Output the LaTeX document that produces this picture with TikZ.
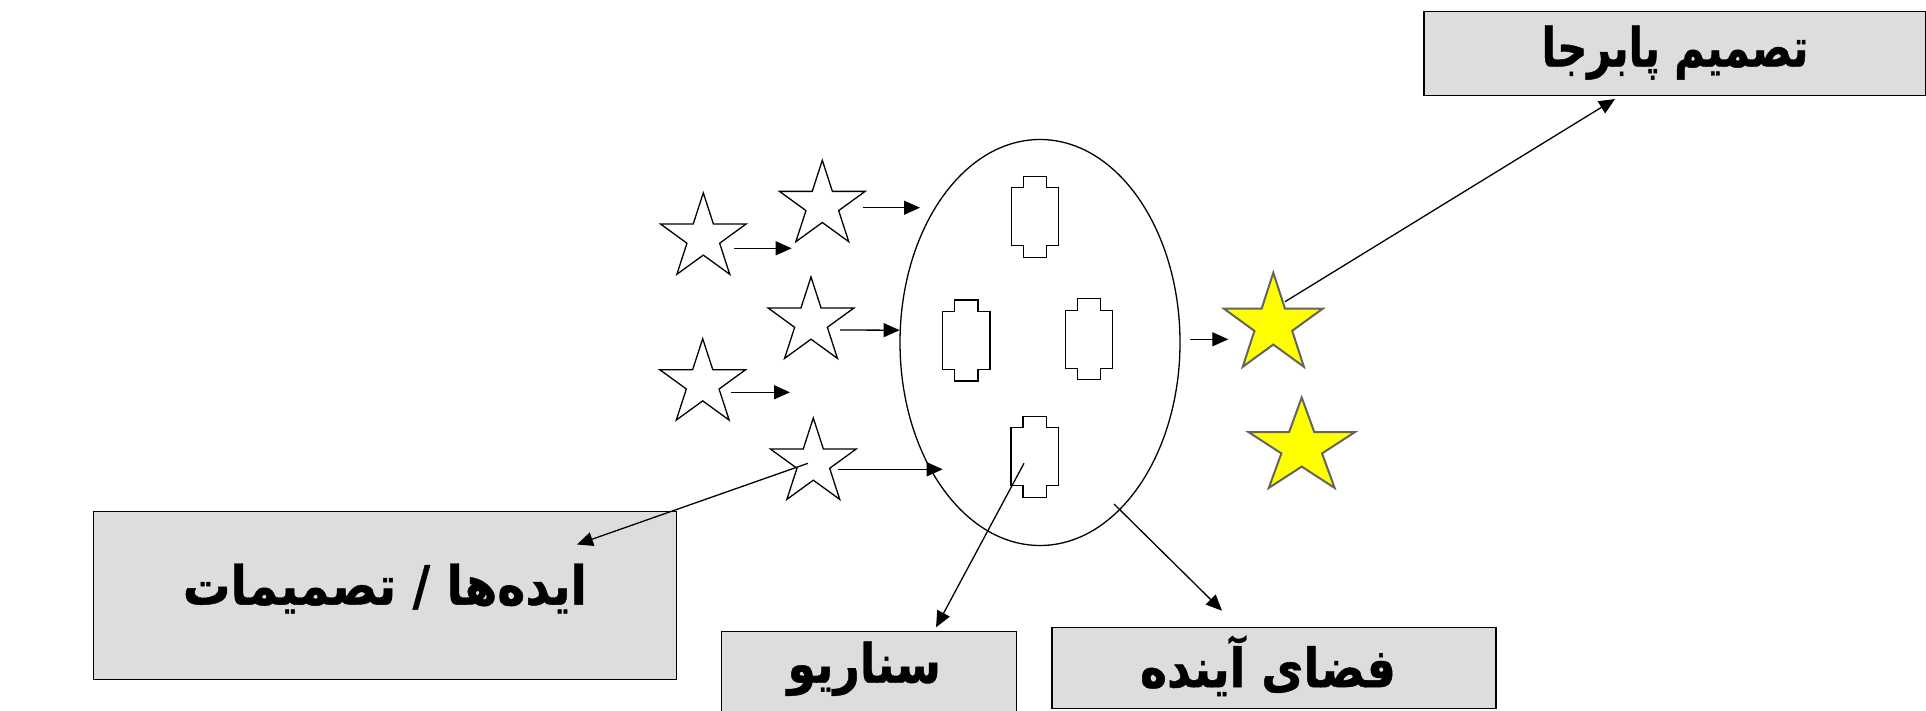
\documentclass[tikz,border=0pt]{standalone}
\usepackage{fontspec}
\newfontfamily\fa[Script=Arabic,FakeStretch=0.85,FakeBold=0.8]{DejaVu Sans}
\newfontfamily\faw[Script=Arabic,FakeStretch=0.88,FakeBold=0.8]{DejaVu Sans}
\newfontfamily\fatop[Script=Arabic,FakeStretch=0.77,FakeBold=0.8]{DejaVu Sans}
\TeXXeTstate=1
\usetikzlibrary{shapes.geometric,arrows.meta,calc}
\definecolor{boxgray}{RGB}{221,221,221}
\definecolor{stargray}{RGB}{100,100,100}
\definecolor{staryellow}{RGB}{255,255,0}
\newcommand{\rtl}[1]{\fa\bfseries\beginR #1\endR}
\newcommand{\rtlw}[1]{\faw\bfseries\beginR #1\endR}
\newcommand{\rtltop}[1]{\fatop\bfseries\beginR #1\endR}
\begin{document}
\begin{tikzpicture}[x=0.5pt,y=-0.5pt,
  ln/.style={line width=0.65pt},
  arr/.style={ln,-{Triangle[length=8pt,width=7pt]}},
  whitestar/.style={star,star points=5,star point ratio=2.618,draw,ln,fill=white,minimum size=45pt,inner sep=0pt},
  yellowstar/.style={star,star points=5,star point ratio=2.618,draw=stargray,line width=1pt,fill=staryellow,inner sep=0pt},
  box/.style={rectangle,draw,ln,fill=boxgray,inner sep=0pt},
  txt/.style={inner sep=0pt,font=\fontsize{27pt}{30pt}\selectfont},
  cell/.pic={\draw[ln] (-23.75,-29) -- (-11.75,-29) -- (-11.75,-40.5) -- (11.75,-40.5) -- (11.75,-29) -- (23.75,-29) -- (23.75,29) -- (11.75,29) -- (11.75,40.5) -- (-11.75,40.5) -- (-11.75,29) -- (-23.75,29) -- cycle;}
]
\useasboundingbox (0,0) rectangle (1926,711);
\fill[white] (0,0) rectangle (1926,711);

% boxes
\node[box,minimum width=251pt,minimum height=42pt] (top) at (1675,53.6) {};
\node[box,minimum width=291.75pt,minimum height=83.8pt] (ideas) at (385,595.5) {};
\node[box,minimum width=147.5pt,minimum height=40.5pt] (scen) at (869.2,671.8) {};
\node[box,minimum width=222pt,minimum height=40.5pt] (future) at (1274,667.8) {};
\node[txt] (topt) at ($(top)+(0,-1)$) {\rtltop{تصمیم پابرجا}};
\node[txt] (ideast) at ($(ideas)+(0,-7)$) {\rtlw{ایده^^^^200cها / تصمیمات}};
\node[txt] (scent) at ($(scen)+(-5,-3)$) {\rtl{سناریو}};
\node[txt] (futuret) at ($(future)+(-6,-2)$) {\rtl{فضای آینده}};

% ellipse and cells
\node[ellipse,draw,ln,minimum width=140pt,minimum height=203pt,inner sep=0pt] (ell) at (1040,342.5) {};
\pic at (1035,216.7) {cell};
\pic at (966.3,340.5) {cell};
\pic at (1089,339.3) {cell};
\pic at (1034.7,456.8) {cell};

% stars
\node[whitestar] (s1) at (703.3,237.9) {};
\node[whitestar] (s2) at (822.3,205.3) {};
\node[whitestar] (s3) at (811,322) {};
\node[whitestar] (s4) at (702.7,383.7) {};
\node[whitestar] (s5) at (813.3,463) {};
\node[yellowstar,minimum size=52pt] (yA) at (1273.3,324.7) {};
\node[yellowstar,minimum size=50pt,xscale=1.12,transform shape] (yB) at (1301.7,447.5) {};

% free ends
\coordinate (a0) at (734,248.3);   \coordinate (a1) at (791.7,248.3);
\coordinate (b0) at (862.7,207.7); \coordinate (b1) at (920,207.7);
\coordinate (c0) at (840,330);
\coordinate (d0) at (731,392.3);   \coordinate (d1) at (790,392.3);
\coordinate (e0) at (838.3,469.3); \coordinate (e1) at (942.7,469.3);
\coordinate (f0) at (1190,339.3);  \coordinate (f1) at (1228.3,339.3);
\coordinate (g0) at (1285,301.7);  \coordinate (g1) at (1615,99);
\coordinate (h0) at (808,463.3);   \coordinate (h1) at (577,544.5);
\coordinate (i0) at (1024,463.3);  \coordinate (i1) at (936,627.3);
\coordinate (j0) at (1114,504);    \coordinate (j1) at (1222,610.7);

% connectors
\draw[arr] (a0) -- (a1);
\draw[arr] (b0) -- (b1);
\draw[arr] (c0) -- (ell.175);
\draw[arr] (d0) -- (d1);
\draw[arr] (e0) -- (e1);
\draw[arr] (f0) -- (f1);
\draw[arr] (g0) -- (g1);
\draw[arr] (h0) -- (h1);
\draw[arr] (i0) -- (i1);
\draw[arr] (j0) -- (j1);
\end{tikzpicture}
\end{document}
